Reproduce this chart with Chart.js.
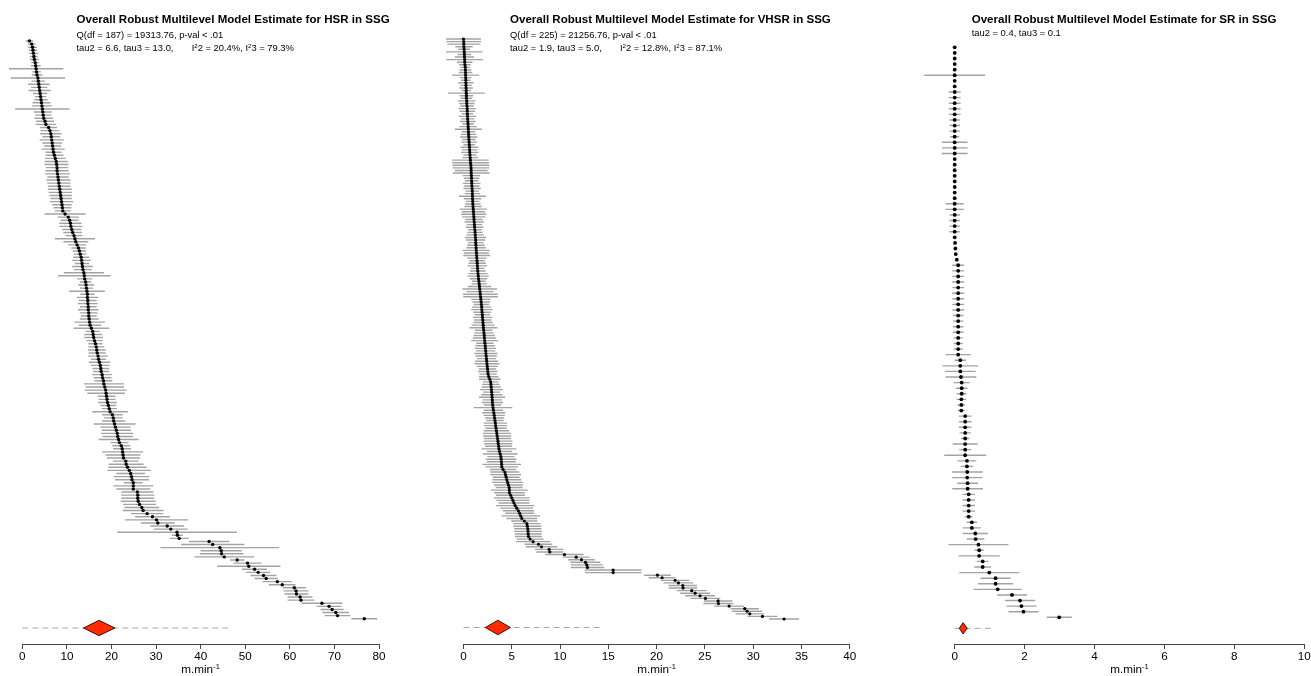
<!DOCTYPE html>
<html><head><meta charset="utf-8">
<script src="https://cdn.jsdelivr.net/npm/chart.js@4"></script>
<style>
html,body{margin:0;padding:0;background:#fff;}
body{width:1311px;height:676px;overflow:hidden;position:relative;font-family:"Liberation Sans",Arial,Helvetica,sans-serif;color:#000;}
canvas{position:absolute;top:0;}
.t{position:absolute;white-space:pre;line-height:14px;}
.ttl{font-weight:bold;font-size:11.55px;}
.sub{font-size:9.4px;}
.ax{font-size:11.7px;transform:translateX(-50%);}
sup{font-size:0.65em;line-height:0;vertical-align:0.5em;}
</style></head>
<body>
<canvas id="c1" width="437" height="676" style="left:0px"></canvas>
<canvas id="c2" width="437" height="676" style="left:437px"></canvas>
<canvas id="c3" width="437" height="676" style="left:874px"></canvas>

<div class="t ttl" style="left:76.5px;top:12px">Overall Robust Multilevel Model Estimate for HSR in SSG</div>
<div class="t sub" style="left:76.5px;top:27.5px">Q(df = 187) = 19313.76, p-val &lt; .01</div>
<div class="t sub" style="left:76.5px;top:41.3px">tau2 = 6.6, tau3 = 13.0,       I<sup>2</sup>2 = 20.4%, I<sup>2</sup>3 = 79.3%</div>

<div class="t ttl" style="left:510px;top:12px">Overall Robust Multilevel Model Estimate for VHSR in SSG</div>
<div class="t sub" style="left:510px;top:27.5px">Q(df = 225) = 21256.76, p-val &lt; .01</div>
<div class="t sub" style="left:510px;top:41.3px">tau2 = 1.9, tau3 = 5.0,       I<sup>2</sup>2 = 12.8%, I<sup>2</sup>3 = 87.1%</div>

<div class="t ttl" style="left:971.7px;top:12px">Overall Robust Multilevel Model Estimate for SR in SSG</div>
<div class="t sub" style="left:971.7px;top:26px">tau2 = 0.4, tau3 = 0.1</div>

<div class="t ax" style="left:200.6px;top:662px">m.min<sup>-1</sup></div>
<div class="t ax" style="left:656.6px;top:662px">m.min<sup>-1</sup></div>
<div class="t ax" style="left:1129.5px;top:662px">m.min<sup>-1</sup></div>

<script>
// ---------------- DATA ----------------
// HSR (k = 188), sorted top to bottom
const hsrEst = [
1.6,2.1,2.3,2.4,2.5,2.6,2.7,2.9,3.0,3.1,
3.2,3.3,3.5,3.6,3.7,3.8,3.9,4.0,4.1,4.2,
4.3,4.4,4.5,4.6,4.7,4.8,5.1,5.3,5.9,6.2,
6.4,6.5,6.6,6.7,6.8,6.9,7.0,7.2,7.4,7.6,
7.7,7.8,7.8,7.9,8.0,8.1,8.2,8.3,8.4,8.5,
8.6,8.7,8.8,8.9,9.0,9.1,9.6,10.3,10.6,10.8,
10.9,11.1,11.3,11.6,11.8,12.0,12.3,12.6,12.8,13.0,
13.2,13.3,13.4,13.5,13.6,13.8,13.9,14.0,14.2,14.3,
14.4,14.5,14.6,14.6,14.7,14.7,14.8,14.8,14.9,14.9,
15.0,15.1,15.2,15.5,15.8,15.9,16.0,16.2,16.4,16.6,
16.7,16.8,17.0,17.1,17.3,17.5,17.6,17.7,17.9,18.0,
18.2,18.3,18.5,18.7,18.8,18.9,19.0,19.1,19.3,19.5,
19.7,20.2,20.4,20.5,20.7,20.9,21.1,21.3,21.4,21.6,
21.8,22.2,22.4,22.5,22.6,22.7,23.2,23.3,23.6,24.0,
24.3,24.5,24.6,24.9,24.9,24.9,25.8,25.9,25.9,26.0,
26.3,26.8,27.1,28.0,29.2,30.1,30.4,32.5,33.3,34.7,
34.8,35.2,41.9,42.7,44.3,44.6,44.7,45.3,48.2,50.5,
50.8,52.1,52.9,54.1,54.7,57.2,58.3,61.0,61.4,61.5,
62.3,62.5,67.2,68.8,69.5,70.3,70.7,76.7];
const hsrHalfCI = [
0.8,0.9,1.0,0.9,1.0,0.9,1.0,0.9,1.1,6.1,
1.0,1.2,6.1,1.5,2.4,1.8,2.5,1.6,1.3,1.5,
2.0,2.2,6.1,2.0,1.8,2.1,2.0,2.3,1.9,2.1,
2.4,2.0,2.7,2.2,1.9,2.6,1.8,2.0,2.3,2.6,
2.7,2.5,2.6,2.8,2.4,2.7,2.6,2.5,2.7,2.6,
2.5,2.4,2.6,2.2,2.0,1.8,4.6,2.4,2.0,2.5,
2.6,2.2,2.1,1.9,4.5,2.8,2.0,1.6,1.5,1.4,
1.8,2.1,1.6,2.3,2.0,4.5,5.9,1.7,1.3,1.8,
1.5,4.0,1.6,2.4,2.0,2.2,1.9,2.3,2.0,1.8,
2.1,3.4,2.5,4.0,1.6,2.0,2.1,1.8,1.6,1.8,
2.0,1.9,2.2,1.7,2.4,2.1,1.9,1.8,2.2,2.0,
2.0,4.5,4.3,4.7,4.2,2.0,1.9,2.1,1.8,1.7,
4.0,2.3,2.1,2.6,4.7,3.4,3.3,3.6,3.4,4.5,
2.0,2.0,2.0,4.6,3.9,3.7,2.9,3.9,4.3,4.9,
3.2,4.0,3.8,2.1,4.5,3.8,3.6,3.7,3.7,3.9,
3.7,3.9,4.6,3.6,3.9,7.1,3.8,3.8,3.8,13.4,
1.2,2.1,4.5,7.1,13.3,4.6,4.9,6.7,1.6,3.1,
7.1,2.8,2.7,2.9,2.6,3.3,3.0,2.6,2.8,2.7,
2.8,3.0,4.6,2.8,2.6,3.0,2.9,2.9];

// VHSR (k = 226)
const vhsrEst = [
0.00,0.02,0.03,0.05,0.06,0.08,0.09,0.10,0.12,0.13,
0.15,0.19,0.20,0.21,0.22,0.23,0.24,0.25,0.26,0.27,
0.28,0.29,0.30,0.31,0.33,0.34,0.36,0.38,0.39,0.40,
0.42,0.43,0.45,0.47,0.48,0.50,0.51,0.53,0.55,0.56,
0.58,0.60,0.62,0.63,0.65,0.67,0.69,0.71,0.73,0.76,
0.78,0.79,0.80,0.82,0.83,0.84,0.86,0.87,0.89,0.91,
0.92,0.93,0.94,0.95,0.97,0.99,1.01,1.03,1.05,1.07,
1.09,1.11,1.13,1.15,1.18,1.20,1.22,1.24,1.26,1.27,
1.29,1.31,1.32,1.34,1.36,1.38,1.40,1.42,1.44,1.46,
1.48,1.50,1.53,1.56,1.59,1.62,1.65,1.68,1.71,1.74,
1.77,1.80,1.83,1.86,1.88,1.90,1.92,1.95,1.97,2.00,
2.02,2.04,2.06,2.09,2.12,2.15,2.17,2.19,2.22,2.25,
2.27,2.30,2.32,2.35,2.38,2.40,2.43,2.46,2.49,2.52,
2.54,2.62,2.72,2.81,2.84,2.87,2.89,2.92,2.94,2.96,
2.98,3.00,3.02,3.06,3.10,3.14,3.18,3.22,3.26,3.30,
3.33,3.37,3.41,3.45,3.49,3.53,3.57,3.60,3.64,3.67,
3.73,3.80,3.87,3.90,3.93,3.95,3.97,4.10,4.28,4.35,
4.42,4.49,4.57,4.65,4.73,4.75,4.76,4.88,5.00,5.12,
5.23,5.35,5.52,5.69,5.81,5.93,6.04,6.30,6.56,6.61,
6.66,6.68,6.70,6.73,
6.90,7.21,7.77,8.08,8.87,8.94,10.46,11.67,12.22,12.63,
12.77,12.84,15.50,15.50,20.09,20.57,21.92,22.26,22.71,22.74,
23.64,23.99,24.50,25.06,26.37,26.40,27.51,29.13,29.37,29.65,
30.96,33.20];
const vhsrHalfCI = [
1.8,1.8,1.7,0.9,0.6,1.9,0.7,1.0,1.9,0.8,
0.6,0.5,0.6,0.7,1.4,0.6,0.5,0.8,0.6,0.7,
0.5,1.9,0.7,0.6,0.9,0.8,0.7,0.9,0.8,0.6,
0.9,0.7,0.8,0.6,0.9,1.4,0.7,0.8,0.9,0.7,
0.8,0.6,0.9,0.8,0.9,0.7,0.8,1.9,1.9,1.9,
1.9,1.7,1.9,0.9,0.8,0.7,0.9,0.8,0.9,0.7,
0.8,1.4,0.9,0.7,0.8,0.9,1.4,1.2,1.3,1.2,
0.9,1.0,0.8,0.9,0.7,0.8,0.9,1.1,1.0,0.8,
0.9,1.0,1.4,1.3,1.4,1.0,0.8,0.9,1.0,0.7,
0.8,1.0,1.1,0.9,0.7,0.8,1.2,1.8,1.4,1.8,
1.8,1.0,0.9,0.8,1.0,1.1,0.9,0.8,1.0,0.9,
1.0,1.2,1.45,0.9,1.0,1.1,1.2,1.4,0.9,1.0,
1.1,1.0,1.2,1.1,1.0,1.2,1.3,1.1,0.9,1.0,
0.9,1.0,1.1,0.8,0.9,1.0,1.2,0.9,1.1,1.36,
1.0,1.1,0.9,2.0,1.0,1.2,1.1,1.0,0.9,1.2,
1.2,1.1,1.3,1.45,1.45,1.4,1.5,1.45,1.4,1.8,
1.3,1.8,1.4,1.6,1.5,2.0,1.7,1.35,1.5,1.6,
1.4,1.5,1.6,1.5,1.4,1.9,1.6,1.5,1.85,1.7,
1.6,2.0,1.7,1.6,1.5,2.0,1.6,1.35,1.4,1.45,
1.4,1.45,1.4,1.4,
1.4,1.76,1.43,1.64,1.47,1.4,1.98,1.38,1.38,1.55,
1.64,1.73,2.93,2.93,1.38,1.38,1.47,1.55,1.47,1.47,
1.55,1.55,1.55,1.55,1.47,1.55,1.55,1.47,1.55,1.47,
1.55,1.55];

// SR (k = 103)
const srEst = [
0,0,0,0,0,0,0,0,0,0,
0,0,0,0,0,0,0,0,0,0,
0,0,0,0,0,0,0,0,0,0,
0,0,0,0,0,0.01,0.02,0.03,0.06,0.1,
0.1,0.1,0.1,0.1,0.1,0.1,0.1,0.1,0.1,0.1,
0.1,0.1,0.1,0.1,0.1,0.1,0.16,0.16,0.16,0.18,
0.2,0.2,0.2,0.19,0.19,0.19,0.3,0.3,0.3,0.3,
0.3,0.3,0.3,0.3,0.35,0.35,0.36,0.36,0.37,0.37,
0.4,0.4,0.4,0.4,0.4,0.49,0.49,0.59,0.6,0.68,
0.7,0.7,0.8,0.8,0.99,1.17,1.17,1.23,1.64,1.87,
1.91,1.97,2.99];
const srHalfCI = [
0,0,0,0,0,0.87,0,0,0.17,0.17,
0.17,0.17,0.17,0.15,0.15,0.15,0.13,0.37,0.37,0.37,
0,0,0,0,0,0,0,0,0.26,0.26,
0.15,0.15,0.15,0.15,0,0,0,0,0,0.17,
0.17,0.17,0.17,0.17,0.17,0.17,0.17,0.17,0.15,0.15,
0.15,0.15,0.13,0.13,0.13,0.36,0.16,0.51,0.44,0.44,
0.23,0.17,0.14,0.14,0.11,0.1,0.18,0.18,0.18,0.16,
0.12,0.36,0.17,0.6,0.27,0.18,0.44,0.43,0.3,0.44,
0.18,0.18,0.18,0.18,0.11,0.15,0.26,0.36,0.25,0.86,
0.13,0.59,0.17,0.24,0.86,0.43,0.5,0.69,0.43,0.43,
0.43,0.43,0.36];

// pooled estimates (HSR, VHSR, SR)
const pooledEst = [17.2, 3.56, 0.24];
const pooledLo  = [13.7, 2.25, 0.13];
const pooledHi  = [20.8, 4.87, 0.36];
// prediction interval as drawn (dashed)
const predLo = [0, 0, 0];
const predHi = [46.6, 14.3, 1.03];

const hsrTicks  = [0,10,20,30,40,50,60,70,80];
const vhsrTicks = [0,5,10,15,20,25,30,35,40];
const srTicks   = [0,2,4,6,8,10];

// ---------------- DRAWING ----------------
Chart.defaults.font.family = '"Liberation Sans", Arial, Helvetica, sans-serif';
Chart.defaults.color = '#000';

const diamondPlugin = {
  id: 'diamond',
  afterDatasetsDraw(chart, args, o) {
    const {ctx} = chart;
    const x = chart.scales.x, y = chart.scales.y;
    const xl = x.getPixelForValue(o.lo), xc = x.getPixelForValue(o.est), xr = x.getPixelForValue(o.hi);
    const yc = y.getPixelForValue(o.row);
    ctx.save();
    ctx.beginPath();
    ctx.moveTo(xl, yc); ctx.lineTo(xc, yc - o.h); ctx.lineTo(xr, yc); ctx.lineTo(xc, yc + o.h);
    ctx.closePath();
    ctx.fillStyle = '#ff2a00';
    ctx.fill();
    ctx.lineWidth = 0.8; ctx.strokeStyle = '#000';
    ctx.stroke();
    ctx.restore();
  }
};

function makePanel(id, idx, est, half, ticks, lay) {
  const k = est.length;
  const spacing = (lay.bottomRow - lay.topRow) / (k - 1);
  const yMax = k;
  const yMin = 1 - (lay.axis - lay.bottomRow) / spacing;
  const dRow = 1 - (lay.diamond - lay.bottomRow) / spacing;
  const pts = est.map((v, j) => ({x: v, y: k - j}));
  const ci = [];
  est.forEach((v, j) => {
    if (half[j] > 0) ci.push({x: v - half[j], y: k - j}, {x: v + half[j], y: k - j}, {x: null, y: null});
  });
  const pred = [{x: predLo[idx], y: dRow}, {x: predHi[idx], y: dRow}];
  return new Chart(document.getElementById(id), {
    type: 'scatter',
    data: {
      datasets: [
        {data: pts, pointRadius: lay.r, pointHoverRadius: lay.r, pointBackgroundColor: '#000', pointBorderWidth: 0, clip: false},
        {data: ci, showLine: true, borderColor: '#a3a3a3', borderWidth: 1.4, pointRadius: 0, pointHoverRadius: 0, spanGaps: false, clip: false},
        {data: pred, showLine: true, borderColor: '#a8a8a8', borderWidth: 1, borderDash: [6, 4], pointRadius: 0, pointHoverRadius: 0, clip: false}
      ]
    },
    options: {
      responsive: false, animation: false, devicePixelRatio: 1, events: [],
      layout: {padding: {left: lay.padL, right: lay.padR, top: lay.topRow, bottom: 0}},
      plugins: {
        legend: {display: false}, tooltip: {enabled: false},
        diamond: {lo: pooledLo[idx], est: pooledEst[idx], hi: pooledHi[idx], row: dRow, h: lay.dh}
      },
      scales: {
        x: {
          type: 'linear', position: 'bottom', min: ticks[0], max: ticks[ticks.length - 1],
          afterBuildTicks: s => { s.ticks = ticks.map(v => ({value: v})); },
          afterFit: s => { s.height = 32; s.paddingLeft = 0; s.paddingRight = 0; },
          ticks: {autoSkip: false, maxRotation: 0, padding: 1, font: {size: 11.7}, color: '#000'},
          grid: {drawOnChartArea: false, drawTicks: true, tickLength: 5, color: '#444', lineWidth: 1},
          border: {display: true, color: '#444', width: 1}
        },
        y: {type: 'linear', display: false, min: yMin, max: yMax}
      }
    },
    plugins: [diamondPlugin]
  });
}

makePanel('c1', 0, hsrEst, hsrHalfCI, hsrTicks,
  {padL: 22.3, padR: 58, topRow: 41, bottomRow: 618.7, diamond: 628, axis: 644, dh: 7.7, r: 1.7});
makePanel('c2', 1, vhsrEst, vhsrHalfCI, vhsrTicks,
  {padL: 26.5, padR: 24.3, topRow: 39, bottomRow: 619, diamond: 627.5, axis: 644, dh: 7.3, r: 1.6});
makePanel('c3', 2, srEst, srHalfCI, srTicks,
  {padL: 80.7, padR: 6.8, topRow: 47.3, bottomRow: 617.3, diamond: 628.3, axis: 644, dh: 5.7, r: 1.9});
</script>
</body></html>
